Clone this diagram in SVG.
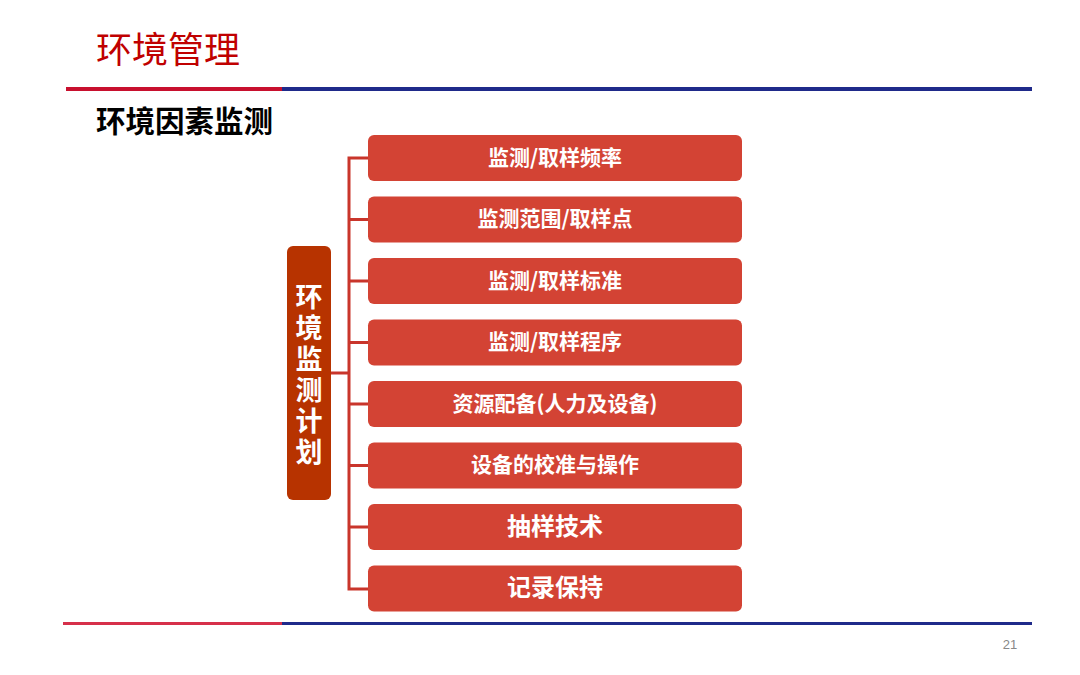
<svg xmlns="http://www.w3.org/2000/svg" width="1080" height="675" viewBox="0 0 1080 675">
<style>
.box{fill:#D34334;}
.bt{fill:#fff;font-family:"Noto Sans CJK SC","Liberation Sans",sans-serif;font-weight:bold;font-size:21px;text-anchor:middle;dominant-baseline:central;}
.bt2{font-size:24px;}
.con{stroke:#C9352B;stroke-width:3;fill:none;}
.vt{fill:#fff;font-family:"Noto Sans CJK SC",sans-serif;font-weight:bold;font-size:27px;writing-mode:vertical-rl;letter-spacing:4px;}
</style>
<rect width="1080" height="675" fill="#fff"/>
<text x="96" y="63" font-family="Noto Sans CJK SC,sans-serif" font-size="36" fill="#C00000">环境管理</text>
<rect x="66" y="87" width="216" height="4" fill="#C8102E"/>
<rect x="282" y="87" width="750" height="4" fill="#1F2A8A"/>
<text x="96" y="132" font-family="Noto Sans CJK SC,sans-serif" font-size="29.5" font-weight="bold" fill="#000">环境因素监测</text>
<g id="connectors" class="con">
<path d="M331 373 H349"/>
<path d="M368 158 H349 V589 H368"/>
<path d="M349 219.5 H368 M349 281 H368 M349 342.5 H368 M349 404 H368 M349 465.5 H368 M349 527 H368"/>
</g>
<g id="root">
<rect x="287" y="246" width="44" height="254" rx="6" fill="#B73300"/>
<text class="vt" x="309" y="283">环境监测计划</text>
</g>
<g id="n1"><rect class="box" x="368" y="135" width="374" height="46" rx="6"/><text class="bt" x="555" y="155.5">监测/取样频率</text></g>
<g id="n2"><rect class="box" x="368" y="196.5" width="374" height="46" rx="6"/><text class="bt" x="555" y="217">监测范围/取样点</text></g>
<g id="n3"><rect class="box" x="368" y="258" width="374" height="46" rx="6"/><text class="bt" x="555" y="278.5">监测/取样标准</text></g>
<g id="n4"><rect class="box" x="368" y="319.5" width="374" height="46" rx="6"/><text class="bt" x="555" y="340">监测/取样程序</text></g>
<g id="n5"><rect class="box" x="368" y="381" width="374" height="46" rx="6"/><text class="bt" x="555" y="401.5">资源配备(人力及设备)</text></g>
<g id="n6"><rect class="box" x="368" y="442.5" width="374" height="46" rx="6"/><text class="bt" x="555" y="463">设备的校准与操作</text></g>
<g id="n7"><rect class="box" x="368" y="504" width="374" height="46" rx="6"/><text class="bt bt2" x="555" y="524">抽样技术</text></g>
<g id="n8"><rect class="box" x="368" y="565.5" width="374" height="46" rx="6"/><text class="bt bt2" x="555" y="585.5">记录保持</text></g>
<rect x="63" y="622" width="219" height="3" fill="#D6304A"/>
<rect x="282" y="622" width="750" height="3" fill="#1F2A8A"/>
<text x="1010" y="649" font-family="Liberation Sans Narrow,Liberation Sans,sans-serif" font-size="13" fill="#888" text-anchor="middle">21</text>
</svg>
